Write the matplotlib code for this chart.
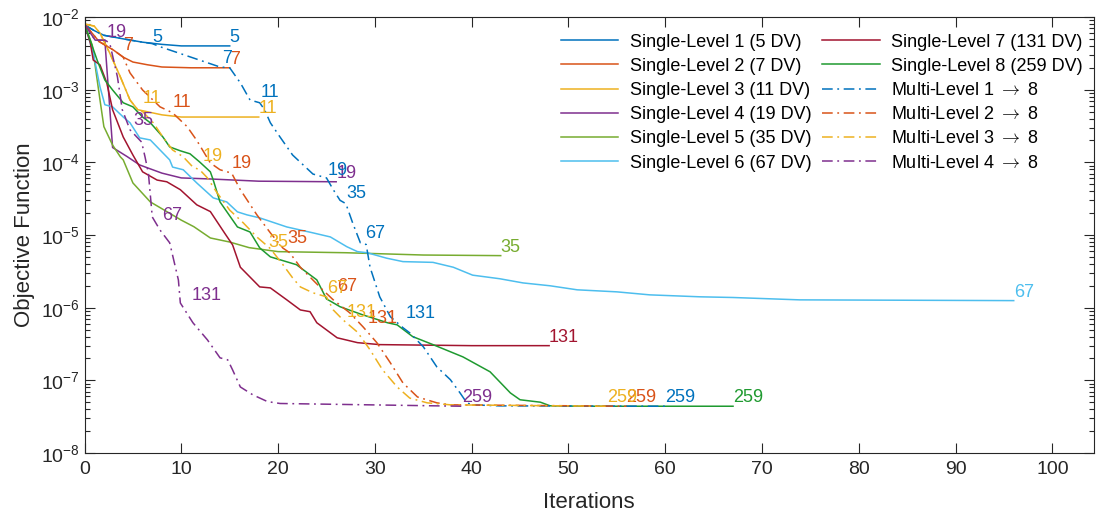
import numpy as np
import matplotlib
matplotlib.use('Agg')
import matplotlib.pyplot as plt
import matplotlib.ticker as mtick

plt.rcParams['font.family'] = ['Liberation Sans', 'DejaVu Sans']
plt.rcParams['mathtext.fontset'] = 'cm'

# ---- data (iteration, objective) ----
# single-level runs
sl1_x = [0, 1, 2, 4, 6, 8, 10, 12, 15]
sl1_y = [7.8e-3, 6.5e-3, 5.6e-3, 5.0e-3, 4.5e-3, 4.2e-3, 4.0e-3, 4.0e-3, 4.0e-3]

sl2_x = [0, 1.5, 3, 4, 5, 6.5, 8, 11, 15]
sl2_y = [8.0e-3, 4.6e-3, 3.5e-3, 2.8e-3, 2.4e-3, 2.2e-3, 2.05e-3, 2.0e-3, 2.0e-3]

sl3_x = [0, 1, 1.6, 2.6, 3.7, 4.7, 5.5, 8, 10, 18]
sl3_y = [8.0e-3, 7.5e-3, 6.0e-3, 3.2e-3, 1.5e-3, 7.2e-4, 5.3e-4, 4.5e-4, 4.2e-4, 4.2e-4]

sl4_x = [0, 1.1, 2.1, 2.9, 4.4, 5.7, 6.5, 8, 10, 13, 18, 26]
sl4_y = [8.0e-3, 4.8e-3, 4.8e-3, 1.6e-4, 1.2e-4, 9.2e-5, 8.4e-5, 7.1e-5, 6.1e-5, 5.9e-5, 5.5e-5, 5.4e-5]

sl5_x = [0, 0.8, 1.6, 2, 2.9, 3.7, 4, 5, 6.8, 8.5, 10, 11.3, 13, 15, 17, 20, 27, 35, 43]
sl5_y = [8.0e-3, 4.1e-3, 7.2e-4, 3.1e-4, 1.73e-4, 1.19e-4, 1.08e-4, 5.2e-5, 2.85e-5, 2.1e-5,
         1.6e-5, 1.3e-5, 9.1e-6, 8.0e-6, 6.7e-6, 5.9e-6, 5.7e-6, 5.3e-6, 5.2e-6]

sl6_x = [0, 0.9, 1.6, 2.1, 2.9, 4, 4.7, 5.7, 6.8, 7.8, 8.8, 9.1, 10.2, 11.6, 13.3, 14.7, 15.8, 16.8,
         18.1, 20.9, 23.6, 25.4, 27.1, 28.2, 29.2, 31.2, 32.9, 36, 38.1, 40.1, 42.9, 45.3, 48.1,
         50.9, 55, 58.4, 63.6, 67, 73.9, 96]
sl6_y = [8.0e-3, 3.2e-3, 1.09e-3, 6.2e-4, 5.8e-4, 4.2e-4, 3.5e-4, 2.17e-4, 2.03e-4, 1.48e-4,
         1.08e-4, 8.6e-5, 7.9e-5, 5.2e-5, 3.24e-5, 2.85e-5, 2.08e-5, 1.89e-5, 1.72e-5, 1.29e-5,
         1.07e-5, 9.4e-6, 6.9e-6, 5.9e-6, 5.7e-6, 4.8e-6, 4.3e-6, 4.2e-6, 3.6e-6, 2.8e-6,
         2.5e-6, 2.19e-6, 2.0e-6, 1.76e-6, 1.65e-6, 1.5e-6, 1.41e-6, 1.38e-6, 1.28e-6, 1.25e-6]

sl7_x = [0, 0.6, 0.9, 1.6, 2.3, 2.9, 4, 5, 6, 7.5, 8.5, 9.9, 11.6, 13, 14.5, 15.3, 16.1, 18.1,
         19.2, 20.9, 22.3, 23.3, 24, 26.1, 28.2, 30.5, 40, 48]
sl7_y = [8.0e-3, 4.4e-3, 2.56e-3, 2.19e-3, 1.24e-3, 5.3e-4, 2.23e-4, 1.26e-4, 7.4e-5, 5.7e-5,
         5.4e-5, 4.2e-5, 2.6e-5, 2.1e-5, 1.05e-5, 7.3e-6, 3.6e-6, 1.93e-6, 1.87e-6, 1.28e-6,
         9.3e-7, 8.8e-7, 6.2e-7, 3.85e-7, 3.3e-7, 3.1e-7, 3.0e-7, 3.0e-7]

sl8_x = [0, 1.3, 2.1, 2.9, 4, 5, 6, 6.8, 8.1, 8.8, 9.9, 10.9, 11.9, 13, 13.3, 14, 15.8, 17.1,
         18.1, 19.2, 21.9, 24, 25, 26.4, 28.7, 31.3, 32.3, 33.9, 36, 39.1, 41.9, 44, 45, 47.1,
         48.1, 51.5, 67]
sl8_y = [8.0e-3, 2.56e-3, 1.36e-3, 9.9e-4, 6.6e-4, 5.8e-4, 4.2e-4, 3.5e-4, 2.23e-4, 1.63e-4,
         1.44e-4, 1.31e-4, 1.01e-4, 7.4e-5, 5.7e-5, 2.85e-5, 1.29e-5, 1.1e-5, 6.65e-6, 5.0e-6,
         3.9e-6, 2.41e-6, 1.32e-6, 1.03e-6, 8.0e-7, 6.2e-7, 5.8e-7, 4.0e-7, 3.1e-7, 2.1e-7,
         1.31e-7, 6.7e-8, 5.4e-8, 5.0e-8, 4.46e-8, 4.4e-8, 4.4e-8]

# multi-level runs
ml1_x = [0, 1, 2, 4, 6, 7, 7.8, 14, 15, 16.1, 17.1, 18.1, 18.6, 19.2, 20.2, 21.5, 23.6, 25, 25.7,
         26.4, 27, 27.7, 28.5, 29.1, 29.5, 30.5, 31.6, 32.9, 33.6, 35, 36.4, 37.8, 38.8, 39.5,
         40.1, 42.9, 60]
ml1_y = [7.8e-3, 6.5e-3, 5.6e-3, 5.0e-3, 4.5e-3, 4.3e-3, 3.9e-3, 2.05e-3, 2.0e-3, 1.24e-3,
         7.2e-4, 6.6e-4, 5.3e-4, 3.5e-4, 2.23e-4, 1.26e-4, 6.9e-5, 6.1e-5, 4.2e-5, 3.0e-5,
         2.7e-5, 1.47e-5, 7.8e-6, 7.4e-6, 3.6e-6, 1.41e-6, 7.5e-7, 5.3e-7, 4.5e-7, 2.9e-7,
         1.53e-7, 1.02e-7, 6.7e-8, 4.9e-8, 4.6e-8, 4.45e-8, 4.4e-8]

ml2_x = [0, 1.5, 3, 4, 4.7, 6, 7.8, 9.1, 10.6, 11.6, 13, 14, 15.2, 16.1, 17.8, 19.2, 20.5, 21.2,
         22.3, 23.6, 24.6, 25.7, 27.4, 28.8, 30.2, 31.6, 32.9, 34.4, 36.4, 37.8, 56]
ml2_y = [8.0e-3, 4.6e-3, 3.5e-3, 2.8e-3, 1.7e-3, 9.9e-4, 5.8e-4, 4.8e-4, 3.1e-4, 2.0e-4,
         9.8e-5, 7.9e-5, 7.1e-5, 4.2e-5, 1.9e-5, 1.07e-5, 6.6e-6, 5.7e-6, 3.6e-6, 2.4e-6,
         1.76e-6, 1.28e-6, 8.5e-7, 5.4e-7, 3.3e-7, 1.74e-7, 9.2e-8, 5.9e-8, 4.9e-8, 4.6e-8, 4.4e-8]

ml3_x = [0, 1, 1.6, 2.6, 3.7, 4.7, 5.5, 6, 7.1, 8.1, 9.1, 10.2, 11.2, 11.9, 12.7, 13.7, 15, 16.4,
         17.8, 19.2, 20.5, 21.5, 22.3, 23.6, 25, 25.7, 26.7, 28.2, 29.5, 30.8, 32.3, 33.6, 35.4,
         37.8, 54]
ml3_y = [8.0e-3, 7.5e-3, 6.0e-3, 3.2e-3, 1.5e-3, 7.2e-4, 5.3e-4, 5.0e-4, 3.5e-4, 2.23e-4,
         1.48e-4, 1.19e-4, 8.6e-5, 7.9e-5, 6.1e-5, 3.8e-5, 2.2e-5, 1.47e-5, 9.4e-6, 6.5e-6,
         3.9e-6, 2.57e-6, 1.93e-6, 1.6e-6, 1.41e-6, 9.3e-7, 6.8e-7, 4.6e-7, 2.63e-7, 1.39e-7,
         8.1e-8, 5.7e-8, 4.9e-8, 4.6e-8, 4.4e-8]

ml4_x = [0, 1.1, 2.1, 2.6, 3.4, 3.9, 4.7, 5.9, 6.25, 6.6, 7, 7.8, 8.8, 9.7, 9.9, 11.2, 12.7, 14,
         14.8, 15.3, 16.1, 17.4, 18.9, 20.2, 39]
ml4_y = [8.0e-3, 4.8e-3, 4.8e-3, 4.4e-3, 1.5e-3, 5.3e-4, 2.8e-4, 1.9e-4, 1.19e-4, 7.1e-5,
         1.77e-5, 1.17e-5, 7.8e-6, 2.4e-6, 1.16e-6, 6.2e-7, 3.6e-7, 2.04e-7, 1.91e-7, 1.39e-7,
         8.1e-8, 6.3e-8, 5.1e-8, 4.8e-8, 4.4e-8]

# design variables per level
dv = [5, 7, 11, 19, 35, 67, 131, 259]

# level-switch labels on the multi-level runs: (text, iteration, objective)
ml1_marks = [('5', 6.97, 4.0e-3), ('7', 14.2, 2.05e-3), ('11', 18.2, 7.0e-4), ('19', 25.15, 5.9e-5),
             ('35', 27.1, 2.85e-5), ('67', 29.0, 8.0e-6), ('131', 33.2, 6.4e-7)]
ml2_marks = [('7', 3.98, 3.1e-3), ('11', 9.14, 5.1e-4), ('19', 15.2, 7.4e-5), ('35', 21.0, 6.9e-6),
             ('67', 26.1, 1.5e-6), ('131', 29.2, 5.4e-7)]
ml3_marks = [('11', 6.04, 5.8e-4), ('19', 12.2, 9.2e-5), ('35', 19.0, 6.0e-6), ('67', 25.1, 1.41e-6),
             ('131', 27.1, 6.6e-7)]
ml4_marks = [('19', 2.3, 4.7e-3), ('35', 5.0, 2.88e-4), ('67', 8.0, 1.42e-5), ('131', 11.1, 1.13e-6)]

colors = ['#0072BD', '#D95319', '#EDB120', '#7E2F8E', '#77AC30', '#4DBEEE', '#A2142F', '#1F9A30']

single = [(sl1_x, sl1_y), (sl2_x, sl2_y), (sl3_x, sl3_y), (sl4_x, sl4_y),
          (sl5_x, sl5_y), (sl6_x, sl6_y), (sl7_x, sl7_y), (sl8_x, sl8_y)]
multi = [(ml1_x, ml1_y, ml1_marks), (ml2_x, ml2_y, ml2_marks),
         (ml3_x, ml3_y, ml3_marks), (ml4_x, ml4_y, ml4_marks)]

fig = plt.figure(figsize=(10.99, 5.18), dpi=100)
ax = fig.add_axes([0.0769, 0.1255, 0.9186, 0.8417])
axcol = '#262626'
lblsize = 13

handles = []
for i, (x, y) in enumerate(single):
    h, = ax.plot(x, y, '-', color=colors[i], lw=1.1, label='Single-Level {} ({} DV)'.format(i + 1, dv[i]))
    handles.append(h)
    ax.text(x[-1], y[-1], str(dv[i]), color=colors[i], fontsize=lblsize, ha='left', va='bottom')

for i, (x, y, marks) in enumerate(multi):
    h, = ax.plot(x, y, '-.', color=colors[i], lw=1.1, dashes=(7, 3, 1.2, 3),
                 label='Multi-Level {} $\\rightarrow$ 8'.format(i + 1))
    handles.append(h)
    for txt, mx, my in marks:
        ax.text(mx, my, txt, color=colors[i], fontsize=lblsize, ha='left', va='bottom')
    ax.text(x[-1], y[-1], str(dv[-1]), color=colors[i], fontsize=lblsize, ha='left', va='bottom')

ax.set_yscale('log')
ax.set_xlim(0, 104.3)
ax.set_ylim(1e-8, 1e-2)
ax.set_xticks(np.arange(0, 101, 10))
ax.yaxis.set_major_locator(mtick.LogLocator(base=10, numticks=10))
ax.yaxis.set_minor_locator(mtick.LogLocator(base=10, subs=np.arange(2, 10), numticks=100))
ax.yaxis.set_minor_formatter(mtick.NullFormatter())

ax.tick_params(which='both', direction='in', top=True, right=True, colors=axcol, labelsize=14)
ax.tick_params(which='major', length=7, width=0.8)
ax.tick_params(axis='x', which='major', pad=6)
ax.tick_params(which='minor', length=3.5, width=0.8)
for sp in ax.spines.values():
    sp.set_color(axcol)
    sp.set_linewidth(0.8)

ax.set_xlabel('Iterations', fontsize=16, color=axcol, labelpad=10)
ax.set_ylabel('Objective Function', fontsize=16, color=axcol, labelpad=4)

ax.legend(handles=handles, ncol=2, loc='upper left', bbox_to_anchor=(0.4715, 0.962),
          frameon=False, fontsize=13, handlelength=3.2, handletextpad=0.66,
          columnspacing=0.55, labelspacing=0.4, borderpad=0, borderaxespad=0)

fig.savefig('out.png', dpi=100, facecolor='white')
